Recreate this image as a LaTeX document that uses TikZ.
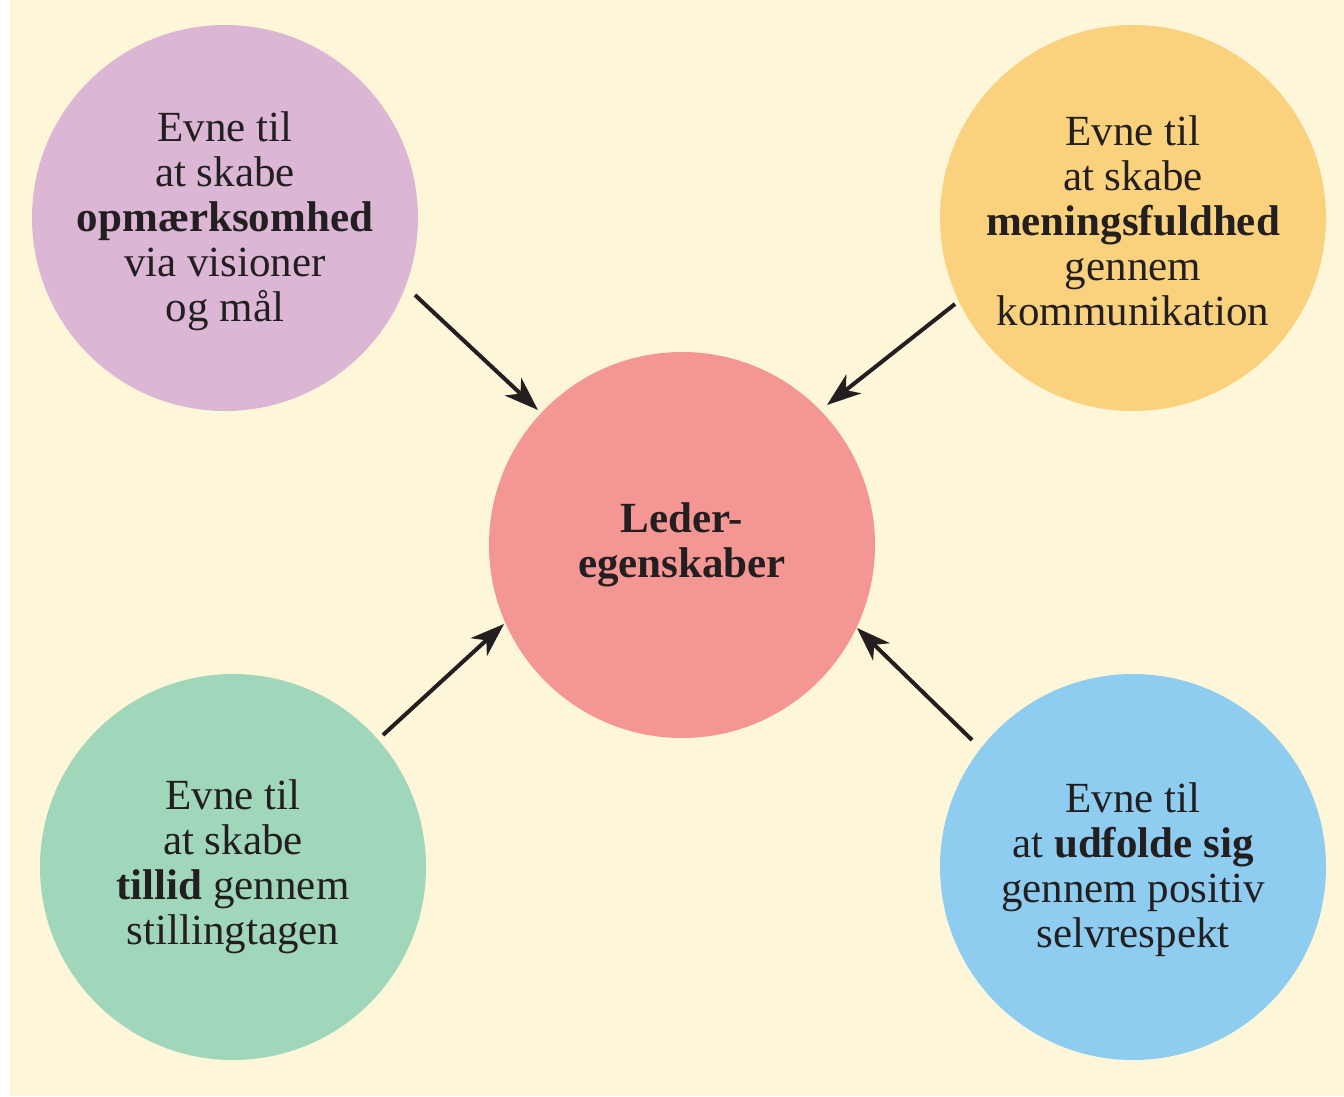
\documentclass[tikz,border=0pt]{standalone}
\usepackage{fontspec}
\setmainfont{Liberation Serif}
\usetikzlibrary{calc,arrows.meta}

\definecolor{paper}{RGB}{254,246,216}
\definecolor{ink}{RGB}{35,31,32}
\definecolor{lilac}{RGB}{219,182,213}
\definecolor{saffron}{RGB}{250,210,125}
\definecolor{coral}{RGB}{244,150,148}
\definecolor{mint}{RGB}{160,214,186}
\definecolor{sky}{RGB}{142,205,240}

\tikzset{
  bubble/.style={circle, minimum size=386pt, inner sep=0pt, align=center,
    text=ink, font=\fontsize{43}{45}\selectfont},
  pointer/.style={draw=ink, line width=4pt,
    -{Stealth[length=34pt,width=24pt,inset=10pt]}}
}

\begin{document}
\begin{tikzpicture}[x=1pt,y=-1pt]
  % page and paper
  \useasboundingbox (0,0) rectangle (1344,1096);
  \fill[white] (0,0) rectangle (1344,1096);
  \fill[paper] (10,0) rectangle (1344,1096);

  % the five circles
  \node[bubble, fill=lilac]   (vision) at (225,218)
    {\rule{0pt}{36pt}Evne til\\at skabe\\\textbf{opmærksomhed}\\via visioner\\og mål};
  \node[bubble, fill=saffron] (meaning) at (1133,218)
    {\rule{0pt}{36pt}Evne til\\at skabe\\\textbf{meningsfuldhed}\\gennem\\kommunikation};
  \node[bubble, fill=coral]   (lead) at (682,545)
    {\textbf{Leder-}\\\textbf{egenskaber}};
  \node[bubble, fill=mint]    (trust) at (233,867)
    {Evne til\\at skabe\\\textbf{tillid} gennem\\stillingtagen};
  \node[bubble, fill=sky]     (unfold) at (1133,867)
    {\rule{0pt}{36pt}Evne til\\at \textbf{udfolde sig}\\gennem positiv\\selvrespekt};

  % arrows pointing at the centre circle
  \draw[pointer] ($(vision.center)+(190,77)$)   -- ($(lead.center)+(-144,-135)$);
  \draw[pointer] ($(meaning.center)+(-178,86)$) -- ($(lead.center)+(145,-140)$);
  \draw[pointer] ($(trust.center)+(150,-132)$)  -- ($(lead.center)+(-178,79)$);
  \draw[pointer] ($(unfold.center)+(-161,-127)$) -- ($(lead.center)+(175,83)$);
\end{tikzpicture}
\end{document}
